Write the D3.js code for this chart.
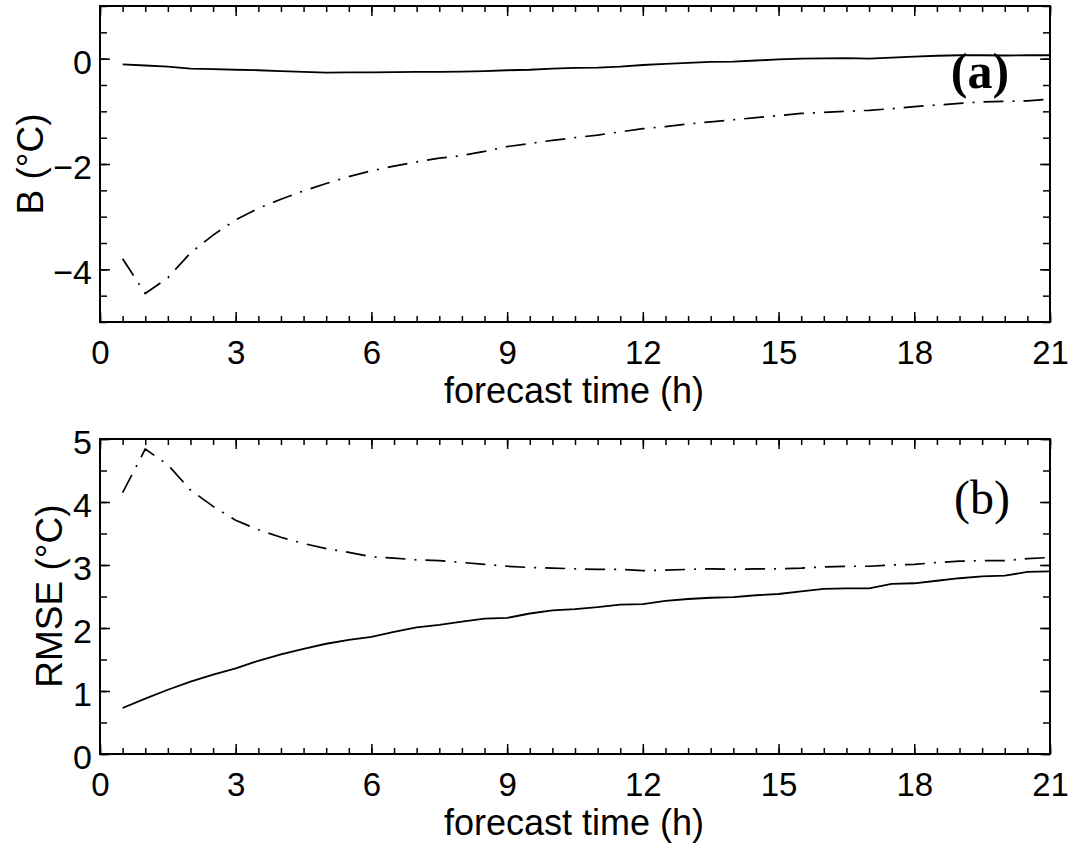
<!DOCTYPE html>
<html>
<head>
<meta charset="utf-8">
<script src="https://cdn.jsdelivr.net/npm/d3@7/dist/d3.min.js"></script>
<style>
  html, body { margin: 0; padding: 0; background: #fff; }
  svg { display: block; }
  .tick text { font-family: "Liberation Sans", Arial, Helvetica, sans-serif; }
</style>
</head>
<body>
<svg id="chart" width="1070" height="845"></svg>
<script>
// Forecast lead times (h)
const hours = [0.5, 1, 1.5, 2, 2.5, 3, 3.5, 4, 4.5, 5, 5.5, 6, 6.5, 7, 7.5, 8, 8.5, 9, 9.5, 10,
  10.5, 11, 11.5, 12, 12.5, 13, 13.5, 14, 14.5, 15, 15.5, 16, 16.5, 17, 17.5, 18, 18.5, 19, 19.5, 20, 20.5, 21];

// Bias (°C): solid and dash-dot series
const biasSolid = [-0.11, -0.13, -0.15, -0.19, -0.20, -0.21, -0.22, -0.235, -0.25, -0.265, -0.26, -0.26, -0.255, -0.25,
  -0.25, -0.245, -0.235, -0.22, -0.21, -0.19, -0.175, -0.17, -0.15, -0.12, -0.10, -0.08, -0.06, -0.055, -0.035, -0.015,
  0.0, 0.005, 0.01, 0.0, 0.02, 0.04, 0.055, 0.065, 0.065, 0.06, 0.065, 0.065];
const biasDashDot = [-3.80, -4.46, -4.16, -3.69, -3.35, -3.06, -2.84, -2.67, -2.51, -2.37, -2.24, -2.13, -2.04, -1.96,
  -1.89, -1.84, -1.76, -1.67, -1.61, -1.55, -1.50, -1.45, -1.39, -1.33, -1.29, -1.24, -1.20, -1.16, -1.12, -1.08,
  -1.04, -1.02, -1.00, -0.98, -0.95, -0.91, -0.88, -0.85, -0.82, -0.81, -0.80, -0.77];

// RMSE (°C): solid and dash-dot series
const rmseSolid = [0.73, 0.88, 1.02, 1.15, 1.26, 1.36, 1.48, 1.58, 1.67, 1.75, 1.81, 1.86, 1.94, 2.01, 2.05, 2.10,
  2.15, 2.16, 2.23, 2.28, 2.30, 2.33, 2.37, 2.38, 2.43, 2.46, 2.48, 2.49, 2.52, 2.54, 2.58, 2.62, 2.63, 2.63,
  2.70, 2.71, 2.75, 2.79, 2.82, 2.83, 2.89, 2.90];
const rmseDashDot = [4.15, 4.84, 4.59, 4.19, 3.93, 3.71, 3.56, 3.44, 3.34, 3.26, 3.20, 3.13, 3.11, 3.08, 3.07, 3.04,
  3.01, 2.98, 2.96, 2.95, 2.94, 2.93, 2.93, 2.91, 2.92, 2.93, 2.94, 2.93, 2.94, 2.94, 2.95, 2.97, 2.98, 2.98,
  3.00, 3.01, 3.04, 3.06, 3.07, 3.07, 3.10, 3.12];

// Axis ticks
const xTicks = [0, 3, 6, 9, 12, 15, 18, 21];
const biasTicks = [-4, -2, 0];
const rmseTicks = [0, 1, 2, 3, 4, 5];

const svg = d3.select("#chart");
const sans = '"Liberation Sans", Arial, Helvetica, sans-serif';
const serif = '"Liberation Serif", "Times New Roman", serif';

const left = 100, right = 1050;

function panel(cfg) {
  const x = d3.scaleLinear().domain([0, 21]).range([left, right]);
  const y = d3.scaleLinear().domain(cfg.yDomain).range([cfg.bottom, cfg.top]);
  const g = svg.append("g");

  const minorX = d3.range(0, 21.001, 0.5);
  const minorY = d3.range(cfg.yDomain[0], cfg.yDomain[1] + 0.001, 0.5);

  const styleAxis = sel => {
    sel.select(".domain").remove();
    sel.selectAll(".tick line").attr("stroke", "#000").attr("stroke-width", 1.5);
  };

  // minor ticks on all four sides (inward)
  g.append("g").attr("transform", `translate(0,${cfg.bottom})`)
    .call(d3.axisBottom(x).tickValues(minorX).tickSize(-6).tickFormat("")).call(styleAxis);
  g.append("g").attr("transform", `translate(0,${cfg.top})`)
    .call(d3.axisTop(x).tickValues(minorX).tickSize(-6).tickFormat("")).call(styleAxis);
  g.append("g").attr("transform", `translate(${left},0)`)
    .call(d3.axisLeft(y).tickValues(minorY).tickSize(-7).tickFormat("")).call(styleAxis);
  g.append("g").attr("transform", `translate(${right},0)`)
    .call(d3.axisRight(y).tickValues(minorY).tickSize(-7).tickFormat("")).call(styleAxis);

  // major ticks with labels
  const xb = g.append("g").attr("transform", `translate(0,${cfg.bottom})`)
    .call(d3.axisBottom(x).tickValues(xTicks).tickSize(-10).tickPadding(0).tickFormat(d3.format("d")))
    .call(styleAxis);
  xb.selectAll(".tick text").attr("y", 42).attr("dy", null)
    .attr("font-size", 33).attr("fill", "#000").attr("font-family", sans);
  g.append("g").attr("transform", `translate(0,${cfg.top})`)
    .call(d3.axisTop(x).tickValues(xTicks).tickSize(-10).tickFormat("")).call(styleAxis);

  const yl = g.append("g").attr("transform", `translate(${left},0)`)
    .call(d3.axisLeft(y).tickValues(cfg.yTicks).tickSize(-10)
      .tickFormat(d => d < 0 ? "\u2212" + Math.abs(d) : String(d)))
    .call(styleAxis);
  yl.selectAll(".tick text").attr("x", -8).attr("y", 0).attr("dy", "0.43em")
    .attr("font-size", 34).attr("fill", "#000").attr("font-family", sans);
  g.append("g").attr("transform", `translate(${right},0)`)
    .call(d3.axisRight(y).tickValues(cfg.yTicks).tickSize(-10).tickFormat("")).call(styleAxis);

  // frame
  g.append("rect").attr("x", left).attr("y", cfg.top)
    .attr("width", right - left).attr("height", cfg.bottom - cfg.top)
    .attr("fill", "none").attr("stroke", "#000").attr("stroke-width", 2);

  // series
  const line = d3.line().x((d, i) => x(hours[i])).y(d => y(d));
  g.append("path").datum(cfg.solid).attr("d", line)
    .attr("fill", "none").attr("stroke", "#000").attr("stroke-width", 1.8);
  g.append("path").datum(cfg.dashDot).attr("d", line)
    .attr("fill", "none").attr("stroke", "#000").attr("stroke-width", 1.7)
    .attr("stroke-dasharray", "20,9,2,9");

  // axis titles
  g.append("text").attr("x", (left + right) / 2 - 1).attr("y", cfg.bottom + 81)
    .attr("text-anchor", "middle").attr("font-family", sans).attr("font-size", 36)
    .text("forecast time (h)");
  g.append("text")
    .attr("transform", `translate(${cfg.yLabelX},${cfg.yLabelY}) rotate(-90)`)
    .attr("text-anchor", "middle").attr("font-family", sans).attr("font-size", 37)
    .text(cfg.yLabel);

  // panel tag
  g.append("text").attr("x", cfg.tagX).attr("y", cfg.tagY).attr("text-anchor", "middle")
    .attr("font-family", serif).attr("font-weight", cfg.tagBold ? "bold" : "normal")
    .attr("font-size", cfg.tagSize).text(cfg.tag);
}

panel({
  top: 6, bottom: 322, yDomain: [-5, 1], yTicks: biasTicks,
  solid: biasSolid, dashDot: biasDashDot,
  yLabel: "B (\u00B0C)", yLabelX: 43, yLabelY: 164,
  tag: "(a)", tagX: 980, tagY: 88, tagBold: true, tagSize: 50
});

panel({
  top: 439, bottom: 754, yDomain: [0, 5], yTicks: rmseTicks,
  solid: rmseSolid, dashDot: rmseDashDot,
  yLabel: "RMSE (\u00B0C)", yLabelX: 62, yLabelY: 596,
  tag: "(b)", tagX: 982, tagY: 514, tagBold: false, tagSize: 48
});
</script>
</body>
</html>
